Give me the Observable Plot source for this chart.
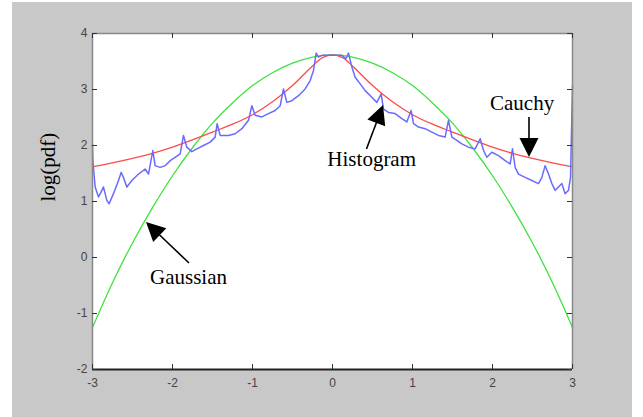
<!DOCTYPE html>
<html>
<head>
<meta charset="utf-8">
<script src="https://cdn.jsdelivr.net/npm/d3@7"></script>
<script src="https://cdn.jsdelivr.net/npm/@observablehq/plot@0.6"></script>
<style>
  html, body { margin: 0; padding: 0; background: #ffffff; }
  #wrap { position: relative; width: 643px; height: 417px; overflow: hidden; }
  #panel { position: absolute; left: 12px; top: 2px; width: 620px; height: 415px; background: #c8c8c8; }
  #chart { position: absolute; left: 0; top: 0; }
</style>
</head>
<body>
<div id="wrap"><div id="panel"></div><div id="chart"></div></div>
<script>
// ---- data ----
const xTicks = [-3, -2, -1, 0, 1, 2, 3];
const yTicks = [-2, -1, 0, 1, 2, 3, 4];
const yLabel = "log(pdf)";

const gaussX = [-3, -2.75, -2.5, -2.25, -2, -1.75, -1.5, -1.25, -1, -0.75, -0.5, -0.25, 0,
                0.25, 0.5, 0.75, 1, 1.25, 1.5, 1.75, 2, 2.25, 2.5, 2.75, 3];
const gaussY = [-1.25, -0.45, 0.26, 0.89, 1.46, 1.96, 2.40, 2.76, 3.07, 3.30, 3.47, 3.58, 3.62,
                3.58, 3.47, 3.30, 3.07, 2.76, 2.40, 1.96, 1.46, 0.89, 0.26, -0.45, -1.25];

const cauchyX = [-3, -2.75, -2.5, -2.25, -2, -1.75, -1.5, -1.25, -1, -0.75, -0.5, -0.25, -0.125, 0,
                 0.125, 0.25, 0.5, 0.75, 1, 1.25, 1.5, 1.75, 2, 2.25, 2.5, 2.75, 3];
const cauchyY = [1.62, 1.69, 1.77, 1.86, 1.97, 2.10, 2.24, 2.38, 2.55, 2.78, 3.07, 3.42, 3.57, 3.62,
                 3.57, 3.42, 3.07, 2.78, 2.55, 2.38, 2.24, 2.10, 1.97, 1.86, 1.77, 1.69, 1.62];

const histX = [-3, -2.995, -2.967, -2.925, -2.883, -2.863, -2.821, -2.792, -2.738, -2.675, -2.642, -2.613,
  -2.571, -2.508, -2.425, -2.342, -2.3, -2.246, -2.217, -2.154, -2.092, -2.029, -1.967, -1.904, -1.863,
  -1.821, -1.758, -1.696, -1.613, -1.529, -1.467, -1.442, -1.404, -1.3, -1.217, -1.133, -1.05, -1.008,
  -0.967, -0.883, -0.8, -0.717, -0.654, -0.613, -0.571, -0.508, -0.425, -0.342, -0.279, -0.238, -0.204,
  -0.175, -0.133, 0, 0.117, 0.167, 0.2, 0.242, 0.283, 0.346, 0.408, 0.492, 0.554, 0.608, 0.638, 0.7,
  0.783, 0.867, 0.929, 0.983, 1.013, 1.075, 1.158, 1.242, 1.325, 1.408, 1.45, 1.492, 1.554, 1.617, 1.7,
  1.783, 1.846, 1.888, 1.929, 1.992, 2.075, 2.158, 2.221, 2.25, 2.283, 2.325, 2.408, 2.492, 2.575, 2.617,
  2.658, 2.7, 2.742, 2.783, 2.825, 2.867, 2.908, 2.95, 2.975, 3];
const histY = [2.02, 1.72, 1.26, 1.08, 1.20, 1.26, 1.02, 0.96, 1.14, 1.375, 1.52, 1.43,
  1.26, 1.375, 1.49, 1.58, 1.49, 1.91, 1.64, 1.61, 1.64, 1.73, 1.79, 1.85, 2.18,
  1.97, 1.89, 1.94, 2.00, 2.06, 2.15, 2.39, 2.18, 2.18, 2.21, 2.30, 2.45, 2.71,
  2.54, 2.51, 2.57, 2.625, 2.71, 3.01, 2.77, 2.80, 2.89, 3.01, 3.16, 3.34, 3.65,
  3.58, 3.61, 3.61, 3.61, 3.55, 3.65, 3.40, 3.22, 3.10, 2.98, 2.86, 2.77, 2.92, 2.65, 2.59,
  2.57, 2.48, 2.42, 2.625, 2.39, 2.33, 2.30, 2.24, 2.18, 2.15, 2.45, 2.15, 2.09, 2.03, 1.97,
  1.94, 2.12, 1.91, 1.79, 1.88, 1.82, 1.73, 1.67, 1.94, 1.61, 1.49, 1.43, 1.375, 1.32, 1.43,
  1.64, 1.49, 1.32, 1.20, 1.26, 1.32, 1.14, 1.20, 1.43, 3.06];

const labelText = ["Histogram", "Cauchy", "Gaussian"];
const labelX = [0.49, 2.37, -1.8];
const labelY = [1.76, 2.757, -0.35];

const arrowTailX = [0.431, 2.4625, -1.7875];
const arrowTailY = [1.93, 2.50, -0.107];
const arrowTipX = [0.6375, 2.4625, -2.325];
const arrowTipY = [2.714, 1.786, 0.625];

// ---- tables built from the arrays ----
const gauss = gaussX.map((x, i) => ({x, y: gaussY[i]}));
const cauchy = cauchyX.map((x, i) => ({x, y: cauchyY[i]}));
const hist = histX.map((x, i) => ({x, y: histY[i]}));
const labels = labelText.map((t, i) => ({t, x: labelX[i], y: labelY[i]}));
const arrows = arrowTailX.map((x1, i) => ({x1, y1: arrowTailY[i], x2: arrowTipX[i], y2: arrowTipY[i]}));

const NS = "http://www.w3.org/2000/svg";
function arrowMark(index, scales) {
  const g = document.createElementNS(NS, "g");
  for (const a of arrows) {
    const x1 = scales.x(a.x1), y1 = scales.y(a.y1), x2 = scales.x(a.x2), y2 = scales.y(a.y2);
    const L = Math.hypot(x2 - x1, y2 - y1), ux = (x2 - x1) / L, uy = (y2 - y1) / L;
    const hl = 19, hw = 9.5;
    const bx = x2 - ux * hl, by = y2 - uy * hl;
    const line = document.createElementNS(NS, "line");
    line.setAttribute("x1", x1); line.setAttribute("y1", y1);
    line.setAttribute("x2", bx + ux * 2); line.setAttribute("y2", by + uy * 2);
    line.setAttribute("stroke", "#000"); line.setAttribute("stroke-width", "1.6");
    g.appendChild(line);
    const poly = document.createElementNS(NS, "polygon");
    poly.setAttribute("points", `${x2},${y2} ${bx - uy * hw},${by + ux * hw} ${bx + uy * hw},${by - ux * hw}`);
    poly.setAttribute("fill", "#000");
    g.appendChild(poly);
  }
  return g;
}

const W = 643, H = 417, mL = 92, mR = 71, mT = 33, mB = 48;
const innerW = W - mL - mR, innerH = H - mT - mB;

const chart = Plot.plot({
  width: W, height: H,
  marginLeft: mL, marginRight: mR, marginTop: mT, marginBottom: mB,
  style: {background: "transparent"},
  x: {domain: [-3, 3]},
  y: {domain: [-2, 4]},
  marks: [
    Plot.frame({fill: "white", stroke: "none"}),
    Plot.line(gauss, {x: "x", y: "y", stroke: "#3ee23e", strokeWidth: 1.3, curve: "catmull-rom"}),
    Plot.line(cauchy, {x: "x", y: "y", stroke: "#ff4a4a", strokeWidth: 1.3, curve: "catmull-rom"}),
    Plot.line(hist, {x: "x", y: "y", stroke: "#6a6aff", strokeWidth: 1.5}),
    // frame edges
    Plot.ruleY([4], {stroke: "#888", strokeWidth: 1.5}),
    Plot.ruleX([-3], {stroke: "#888", strokeWidth: 1.5}),
    Plot.ruleX([3], {stroke: "#888", strokeWidth: 1.5}),
    Plot.ruleY([-2], {stroke: "#222", strokeWidth: 2}),
    // inward ticks on all sides
    Plot.tickX(xTicks, {x: d => d, stroke: "#333", insetTop: innerH - 5}),
    Plot.tickX(xTicks, {x: d => d, stroke: "#333", insetBottom: innerH - 5}),
    Plot.tickY(yTicks, {y: d => d, stroke: "#333", insetRight: innerW - 5}),
    Plot.tickY(yTicks, {y: d => d, stroke: "#333", insetLeft: innerW - 5}),
    Plot.axisX({ticks: xTicks, tickSize: 0, tickPadding: 9, tickFormat: d => String(d),
      fontSize: 12, fontFamily: "Liberation Sans", color: "#454545", label: null}),
    Plot.axisY({ticks: yTicks, tickSize: 0, tickPadding: 5, tickFormat: d => String(d),
      fontSize: 12, fontFamily: "Liberation Sans", color: "#454545", label: null}),
    Plot.text([yLabel], {text: d => d, frameAnchor: "left", dx: -44, rotate: -90,
      fontSize: 21, fontFamily: "Liberation Serif", fill: "#000"}),
    Plot.text(labels, {x: "x", y: "y", text: "t", fontSize: 21, fontFamily: "Liberation Serif",
      fill: "#000", textAnchor: "middle", lineAnchor: "middle"}),
    arrowMark
  ]
});
document.getElementById("chart").appendChild(chart);
</script>
</body>
</html>
